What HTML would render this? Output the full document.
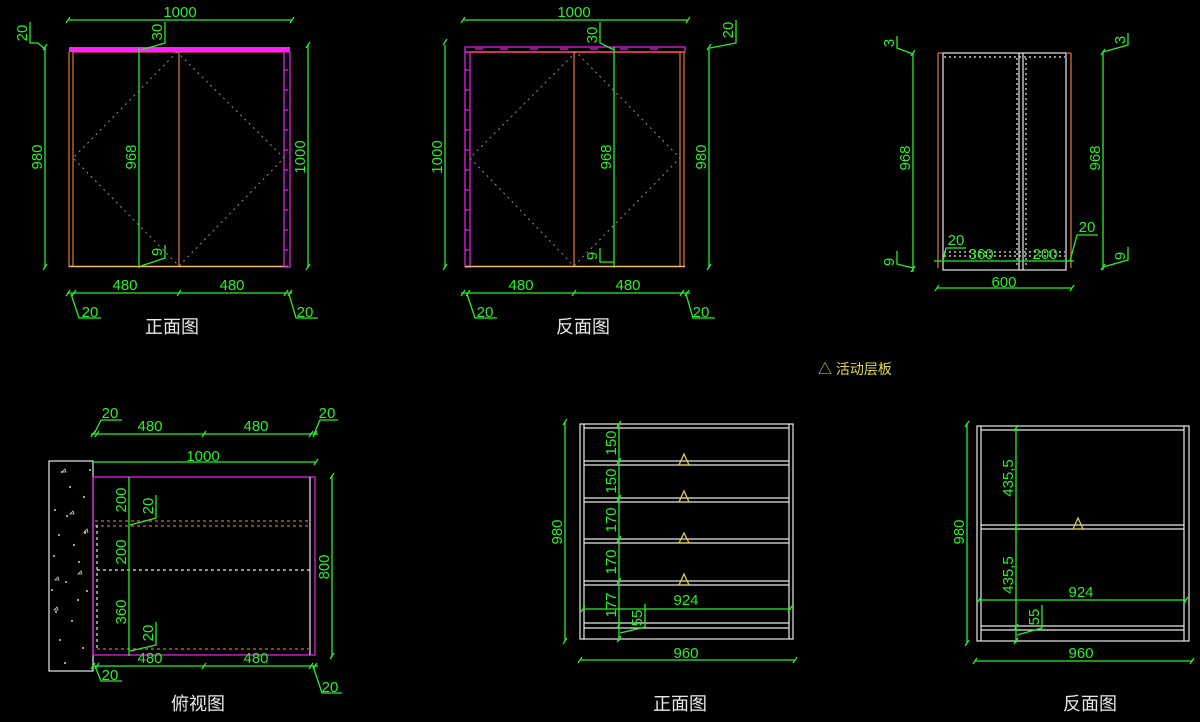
<!DOCTYPE html>
<html><head><meta charset="utf-8"><style>
html,body{margin:0;padding:0;background:#000;}
svg{display:block}
text{font-family:"Liberation Sans","Noto Sans CJK SC",sans-serif;}
.g{stroke:#28f028;stroke-width:1.3;fill:none}
.t{fill:#28f028;font-size:15px;text-anchor:middle}
.w{stroke:#e8e8e8;stroke-width:1.2;fill:none}
.o{stroke:#d07030;stroke-width:1.3;fill:none}
.m{stroke:#e020e0;stroke-width:1.3;fill:none}
.d{stroke:#909090;stroke-width:1;stroke-dasharray:2 4;fill:none}
.lab{fill:#e8e8e8;font-size:18px;text-anchor:middle}
.y{stroke:#d8d040;stroke-width:1.3;fill:none}
</style></head><body>
<svg width="1200" height="722" viewBox="0 0 1200 722" xmlns="http://www.w3.org/2000/svg">
<rect width="1200" height="722" fill="#000"/>

<!-- VIEW 1 -->
<rect x="69" y="47" width="221" height="5" fill="#ff20ff"/>
<line class="o" x1="69" y1="52" x2="69" y2="267"/>
<line class="o" x1="73" y1="52" x2="73" y2="266"/>
<line class="o" x1="179" y1="52" x2="179" y2="266"/>
<line class="o" x1="73" y1="52" x2="284" y2="52" style="stroke:#ff4060"/>
<line x1="69" y1="266.5" x2="288" y2="266.5" stroke="#f0c070" stroke-width="1.5"/>
<rect class="m" x="284" y="52" width="6" height="215"/>
<path class="m" d="M284 70h4M284 90h4M284 110h4M284 130h4M284 150h4M284 170h4M284 190h4M284 210h4M284 230h4M284 250h4" stroke-width="1"/>
<path class="d" d="M177 52L73 158L179 266L284 158Z"/>
<line class="g" x1="68" y1="20" x2="292" y2="20"/><text class="t" x="180" y="17" font-size="16">1000</text>
<line class="g" x1="45" y1="47" x2="45" y2="268"/><text class="t" transform="translate(42,157) rotate(-90)">980</text>
<line class="g" x1="308" y1="45" x2="308" y2="268"/><text class="t" transform="translate(305,157) rotate(-90)">1000</text>
<line class="g" x1="139" y1="47" x2="139" y2="268"/><text class="t" transform="translate(136,157) rotate(-90)">968</text>
<line class="g" x1="68" y1="293" x2="292" y2="293"/>
<path class="g" d="M66 296l4-6M72 296l4-6M177 296l4-6M284 296l4-6M288 296l4-6M43 270l4-6M43 50l4-6M306 270l4-6M306 48l4-6M66 23l4-6M290 23l4-6"/>
<text class="t" x="125" y="290">480</text><text class="t" x="232" y="290">480</text>
<path class="g" d="M71 294L79 318H101"/><text class="t" x="90" y="317">20</text>
<path class="g" d="M289 294L296 318H318"/><text class="t" x="305" y="317">20</text>
<path class="g" d="M30 22V43H38L46 50"/><text class="t" transform="translate(27,33) rotate(-90)">20</text>
<path class="g" d="M165 22V43L141 50"/><text class="t" transform="translate(162,32) rotate(-90)">30</text>
<path class="g" d="M165 245V258L141 266"/><text class="t" transform="translate(162,252) rotate(-90)">9</text>
<text class="lab" x="172" y="333">正面图</text>

<!-- VIEW 2 -->
<rect class="m" x="465" y="47" width="220" height="5"/>
<path class="m" d="M475 49h8M500 49h8M530 49h8M560 49h8M590 49h8M620 49h8M650 49h8" stroke-width="1"/>
<line x1="470" y1="52" x2="684" y2="52" stroke="#ff4060" stroke-width="1.4"/>
<rect class="m" x="465" y="52" width="5" height="215"/>
<path class="m" d="M465 70h4M465 90h4M465 110h4M465 130h4M465 150h4M465 170h4M465 190h4M465 210h4M465 230h4M465 250h4" stroke-width="1"/>
<line class="o" x1="574" y1="52" x2="574" y2="266"/>
<line class="o" x1="680" y1="52" x2="680" y2="266"/>
<line class="o" x1="684" y1="52" x2="684" y2="267"/>
<line x1="465" y1="266.5" x2="685" y2="266.5" stroke="#f0c070" stroke-width="1.5"/>
<path class="d" d="M576 52L470 158L574 266L680 158Z"/>
<line class="g" x1="463" y1="20" x2="688" y2="20"/><text class="t" x="574" y="17" font-size="16">1000</text>
<line class="g" x1="445" y1="45" x2="445" y2="268"/><text class="t" transform="translate(442,157) rotate(-90)">1000</text>
<line class="g" x1="709" y1="47" x2="709" y2="268"/><text class="t" transform="translate(706,157) rotate(-90)">980</text>
<line class="g" x1="614" y1="47" x2="614" y2="268"/><text class="t" transform="translate(611,157) rotate(-90)">968</text>
<line class="g" x1="461" y1="293" x2="690" y2="293"/>
<path class="g" d="M461 296l4-6M466 296l4-6M572 296l4-6M680 296l4-6M685 296l4-6M443 45l4-6M443 270l4-6M707 270l4-6M707 50l4-6M461 23l4-6M686 23l4-6"/>
<text class="t" x="521" y="290">480</text><text class="t" x="628" y="290">480</text>
<path class="g" d="M467 294L475 318H497"/><text class="t" x="485" y="317">20</text>
<path class="g" d="M686 294L693 318H715"/><text class="t" x="701" y="317">20</text>
<path class="g" d="M736 20V43L710 48"/><text class="t" transform="translate(733,30) rotate(-90)">20</text>
<path class="g" d="M600 22V43L614 50"/><text class="t" transform="translate(597,35) rotate(-90)">30</text>
<path class="g" d="M600 248V262H614"/><text class="t" transform="translate(597,256) rotate(-90)">9</text>
<text class="lab" x="583" y="333">反面图</text>

<!-- VIEW 3 -->
<rect class="w" x="943" y="53" width="123" height="217"/>
<line class="w" x1="1019" y1="53" x2="1019" y2="270"/>
<line class="w" x1="1023" y1="53" x2="1023" y2="270"/>
<line class="o" x1="938" y1="53" x2="938" y2="268"/>
<line class="o" x1="1071" y1="53" x2="1071" y2="268"/>
<line class="o" x1="938" y1="53" x2="943" y2="53"/><line class="o" x1="1066" y1="53" x2="1071" y2="53"/>
<g stroke="#e8e8e8" stroke-width="1.2" stroke-dasharray="2 3" fill="none">
<line x1="944" y1="57" x2="1065" y2="57"/>
<line x1="1017" y1="58" x2="1017" y2="268"/>
<line x1="1026" y1="58" x2="1026" y2="268"/>
<line x1="944" y1="252" x2="1065" y2="252"/>
<line x1="944" y1="256" x2="1065" y2="256"/>
</g>
<line class="g" x1="913" y1="53" x2="913" y2="272"/><text class="t" transform="translate(910,158) rotate(-90)">968</text>
<line class="g" x1="1103" y1="52" x2="1103" y2="270"/><text class="t" transform="translate(1100,158) rotate(-90)">968</text>
<path class="g" d="M897 36V48L913 54"/><text class="t" transform="translate(894,43) rotate(-90)">3</text>
<path class="g" d="M1128 33V45L1103 52"/><text class="t" transform="translate(1125,40) rotate(-90)">3</text>
<path class="g" d="M897 251V264L913 268"/><text class="t" transform="translate(894,262) rotate(-90)">9</text>
<path class="g" d="M1128 247V260L1103 267"/><text class="t" transform="translate(1125,256) rotate(-90)">9</text>
<line class="g" x1="934" y1="261" x2="1074" y2="261"/>
<path class="g" d="M943 261L946 248H966"/><text class="t" x="956" y="245">20</text>
<path class="g" d="M1070 261L1077 235H1098"/><text class="t" x="1087" y="232">20</text>
<text class="t" x="981" y="259">360</text><text class="t" x="1045" y="259">200</text>
<line class="g" x1="937" y1="288" x2="1072" y2="288"/><text class="t" x="1004" y="287">600</text>
<path class="g" d="M935 291l4-6M1070 291l4-6M911 56l4-6M911 272l4-6M1101 55l4-6M1101 270l4-6"/>

<text x="818" y="374" fill="#e0d850" font-size="14" font-family="Liberation Sans, Noto Sans CJK SC, sans-serif">△ 活动层板</text>

<!-- VIEW 4 -->
<rect class="w" x="49" y="461" width="44" height="210"/>
<g fill="#cfcfcf">
<circle cx="62" cy="472" r="1"/><circle cx="70" cy="487" r="1"/><circle cx="55" cy="510" r="1"/><circle cx="67" cy="516" r="1"/><circle cx="84" cy="497" r="1"/><circle cx="59" cy="535" r="1"/><circle cx="74" cy="545" r="1"/><circle cx="85" cy="533" r="1"/><circle cx="54" cy="556" r="1"/><circle cx="79" cy="562" r="1"/><circle cx="66" cy="582" r="1"/><circle cx="87" cy="591" r="1"/><circle cx="56" cy="612" r="1"/><circle cx="72" cy="621" r="1"/><circle cx="60" cy="640" r="1"/><circle cx="83" cy="648" r="1"/><circle cx="65" cy="663" r="1"/><circle cx="78" cy="600" r="1"/><circle cx="90" cy="470" r="1"/><circle cx="52" cy="590" r="1"/>
<path d="M62 472l3-3l1 3z M70 514l3-3l1 3z M54 610l3-3l1 3z M78 574l3-3l1 3z M84 532l3-3l1 3z M55 580l3-3l1 3z" stroke="#cfcfcf" stroke-width="0.8" fill="none"/>
</g>
<rect class="m" x="93" y="477" width="222" height="178"/>
<line class="w" x1="310" y1="477" x2="310" y2="655"/>
<g stroke="#d07030" stroke-width="1.3" stroke-dasharray="3 3" fill="none">
<line x1="95" y1="521" x2="310" y2="521"/><line x1="95" y1="526" x2="310" y2="526"/><line x1="97" y1="649" x2="310" y2="649"/>
</g>
<g stroke="#e8e8e8" stroke-width="1.2" stroke-dasharray="3 3" fill="none">
<line x1="97" y1="570" x2="310" y2="570"/><line x1="97" y1="525" x2="97" y2="650"/>
</g>
<line class="g" x1="129" y1="477" x2="129" y2="656"/>
<text class="t" transform="translate(126,500) rotate(-90)">200</text>
<text class="t" transform="translate(126,552) rotate(-90)">200</text>
<text class="t" transform="translate(126,612) rotate(-90)">360</text>
<path class="g" d="M156 495V518L130 525"/><text class="t" transform="translate(153,506) rotate(-90)">20</text>
<path class="g" d="M156 622V645L130 651"/><text class="t" transform="translate(153,633) rotate(-90)">20</text>
<line class="g" x1="332" y1="476" x2="332" y2="657"/><text class="t" transform="translate(329,567) rotate(-90)">800</text>
<line class="g" x1="93" y1="462" x2="316" y2="462"/><text class="t" x="203" y="461" font-size="16">1000</text>
<line class="g" x1="91" y1="434" x2="318" y2="434"/>
<text class="t" x="150" y="431">480</text><text class="t" x="256" y="431">480</text>
<path class="g" d="M94 434L101 420H122"/><text class="t" x="110" y="418">20</text>
<path class="g" d="M314 434L320 420H338"/><text class="t" x="327" y="418">20</text>
<line class="g" x1="93" y1="666" x2="318" y2="666"/>
<text class="t" x="150" y="663">480</text><text class="t" x="256" y="663">480</text>
<path class="g" d="M95 666L101 681H122"/><text class="t" x="110" y="680">20</text>
<path class="g" d="M313 666L322 693H342"/><text class="t" x="330" y="692">20</text>
<path class="g" d="M91 437l4-6M95 437l4-6M202 437l4-6M309 437l4-6M313 437l4-6M91 669l4-6M95 669l4-6M202 669l4-6M309 669l4-6M313 669l4-6M314 465l4-6M330 479l4-6M330 659l4-6"/>
<text class="lab" x="198" y="710">俯视图</text>

<!-- VIEW 5 -->
<rect class="w" x="580" y="424" width="213" height="215"/>
<line class="w" x1="584" y1="424" x2="584" y2="639"/>
<line class="w" x1="789" y1="424" x2="789" y2="639"/>
<g class="w">
<line x1="584" y1="428" x2="789" y2="428"/>
<line x1="584" y1="461" x2="789" y2="461"/><line x1="584" y1="465" x2="789" y2="465"/>
<line x1="584" y1="498" x2="789" y2="498"/><line x1="584" y1="502" x2="789" y2="502"/>
<line x1="584" y1="539" x2="789" y2="539"/><line x1="584" y1="543" x2="789" y2="543"/>
<line x1="584" y1="581" x2="789" y2="581"/><line x1="584" y1="585" x2="789" y2="585"/>
<line x1="584" y1="623" x2="789" y2="623"/><line x1="584" y1="628" x2="789" y2="628"/>
</g>
<path class="y" d="M684 454L679 465H689Z M684 491L679 502H689Z M684 533L679 543H689Z M684 574L679 585H689Z"/>
<line class="g" x1="619" y1="424" x2="619" y2="641"/>
<text class="t" transform="translate(616,443) rotate(-90)">150</text>
<text class="t" transform="translate(616,481) rotate(-90)">150</text>
<text class="t" transform="translate(616,520) rotate(-90)">170</text>
<text class="t" transform="translate(616,562) rotate(-90)">170</text>
<text class="t" transform="translate(616,605) rotate(-90)">177</text>
<path class="g" d="M645 604V627L620 633"/><text class="t" transform="translate(642,618) rotate(-90)">55</text>
<line class="g" x1="583" y1="609" x2="791" y2="609"/><text class="t" x="686" y="605">924</text>
<line class="g" x1="565" y1="422" x2="565" y2="641"/><text class="t" transform="translate(562,532) rotate(-90)">980</text>
<line class="g" x1="580" y1="660" x2="795" y2="660"/><text class="t" x="686" y="658">960</text>
<path class="g" d="M581 612l4-6M788 612l4-6M563 425l4-6M563 644l4-6M578 663l4-6M793 663l4-6M617 427l4-6M617 464l4-6M617 501l4-6M617 542l4-6M617 584l4-6M617 628l4-6M617 642l4-6"/>
<text class="lab" x="680" y="710">正面图</text>

<!-- VIEW 6 -->
<rect class="w" x="977" y="426" width="212" height="215"/>
<line class="w" x1="981" y1="426" x2="981" y2="641"/>
<line class="w" x1="1184" y1="426" x2="1184" y2="641"/>
<g class="w">
<line x1="981" y1="430" x2="1184" y2="430"/>
<line x1="981" y1="525" x2="1184" y2="525"/><line x1="981" y1="529" x2="1184" y2="529"/>
<line x1="981" y1="626" x2="1184" y2="626"/><line x1="981" y1="630" x2="1184" y2="630"/>
</g>
<path class="y" d="M1078 518L1073 529H1083Z"/>
<line class="g" x1="1016" y1="428" x2="1016" y2="643"/>
<text class="t" transform="translate(1013,478) rotate(-90)">435,5</text>
<text class="t" transform="translate(1013,575) rotate(-90)">435,5</text>
<path class="g" d="M1042 605V628L1017 635"/><text class="t" transform="translate(1039,617) rotate(-90)">55</text>
<line class="g" x1="979" y1="600" x2="1186" y2="600"/><text class="t" x="1081" y="597">924</text>
<line class="g" x1="967" y1="424" x2="967" y2="643"/><text class="t" transform="translate(964,532) rotate(-90)">980</text>
<line class="g" x1="975" y1="661" x2="1192" y2="661"/><text class="t" x="1081" y="658">960</text>
<path class="g" d="M977 603l4-6M1184 603l4-6M965 427l4-6M965 646l4-6M973 664l4-6M1190 664l4-6M1014 431l4-6M1014 530l4-6M1014 630l4-6M1014 644l4-6"/>
<text class="lab" x="1090" y="710">反面图</text>
</svg>
</body></html>
